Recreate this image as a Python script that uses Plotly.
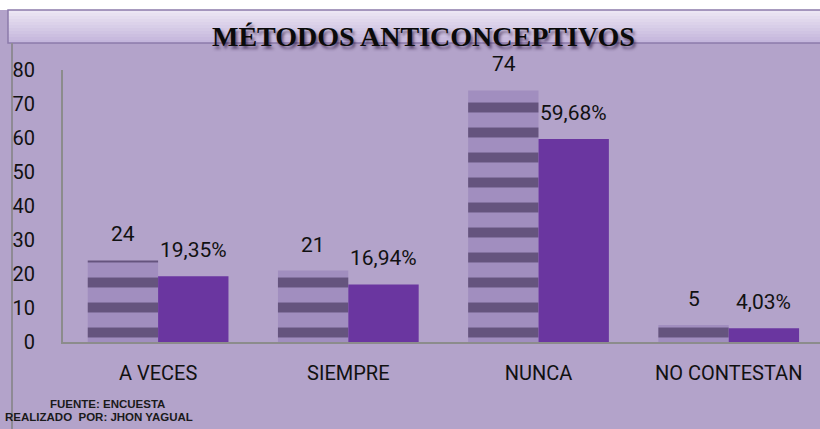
import plotly.graph_objects as go

categories = ["A VECES", "SIEMPRE", "NUNCA", "NO CONTESTAN"]
counts = [24, 21, 74, 5]
percents = [19.35, 16.94, 59.68, 4.03]
percent_labels = ["19,35%", "16,94%", "59,68%", "4,03%"]
y_ticks = [0, 10, 20, 30, 40, 50, 60, 70, 80]

W, H = 820, 429
L, R, T, B = 63, 0, 70, 87
pw, ph = W - L - R, H - T - B

def px(x):
    return (x - L) / pw

def py(y):
    return (H - B - y) / ph

BG = "#B3A3CA"
fig = go.Figure()

fig.add_trace(go.Bar(
    x=categories, y=counts, name="Frecuencia",
    marker=dict(color="#A18EBF",
                pattern=dict(shape="-", fgcolor="#5A4A73", bgcolor="#A18EBF",
                             fgopacity=0.85, size=25, solidity=0.4),
                line=dict(width=0)),
))
fig.add_trace(go.Bar(
    x=categories, y=percents, name="Porcentaje",
    marker=dict(color="#6A36A0", line=dict(width=0)),
))

font_lbl = dict(family="Roboto, Arial, sans-serif", size=21, color="#111111")
for c, v in zip(categories, counts):
    fig.add_annotation(x=c, y=v, text=str(v), showarrow=False, xshift=-35,
                       yanchor="bottom", yshift=12, font=font_lbl)
for c, v, t in zip(categories, percents, percent_labels):
    fig.add_annotation(x=c, y=v, text=t, showarrow=False, xshift=35,
                       yanchor="bottom", yshift=12, font=font_lbl)

shapes = []
# lavender chart background below the white top strip
shapes.append(dict(type="rect", xref="paper", yref="paper", x0=px(0), x1=px(W + 2), y0=py(H + 2), y1=py(10),
                   fillcolor=BG, line=dict(width=0), layer="below"))
# title box gradient strips
top_c = (236, 230, 244)
bot_c = (196, 182, 220)
n = 11
y0, y1 = 10, 43
for i in range(n):
    f = i / (n - 1)
    col = tuple(int(top_c[k] + (bot_c[k] - top_c[k]) * f) for k in range(3))
    ya = y0 + (y1 - y0) * i / n
    yb = y0 + (y1 - y0) * (i + 1) / n
    shapes.append(dict(type="rect", xref="paper", yref="paper", x0=px(8), x1=px(W + 2),
                       y0=py(yb), y1=py(ya), fillcolor="rgb(%d,%d,%d)" % col,
                       line=dict(width=0), layer="below"))
shapes.append(dict(type="rect", xref="paper", yref="paper", x0=px(8), x1=px(W + 2),
                   y0=py(43), y1=py(10), fillcolor="rgba(0,0,0,0)",
                   line=dict(width=1.5, color="#8C7BAA"), layer="below"))
# left border line
shapes.append(dict(type="line", xref="paper", yref="paper", x0=px(12), x1=px(12),
                   y0=py(H), y1=py(43), line=dict(width=2, color="#8E8A94"), layer="below"))
fig.update_layout(shapes=shapes)

fig.add_annotation(xref="paper", yref="paper", x=px(423), y=py(36), text="<b>MÉTODOS ANTICONCEPTIVOS</b>",
                   showarrow=False, xanchor="center", yanchor="middle",
                   font=dict(family="Liberation Serif, Times New Roman, serif", size=28, color="#0A0A0A",
                             shadow="2px 3px 3px rgba(40,20,60,0.6)"))
fig.add_annotation(xref="paper", yref="paper", x=px(107), y=py(404), text="<b>FUENTE: ENCUESTA</b>",
                   showarrow=False, xanchor="center", yanchor="middle",
                   font=dict(family="Liberation Sans, Arial, sans-serif", size=11.5, color="#1A1A1A"))
fig.add_annotation(xref="paper", yref="paper", x=px(3), y=py(417), text="<b>REALIZADO  POR: JHON YAGUAL</b>",
                   showarrow=False, xanchor="left", yanchor="middle",
                   font=dict(family="Liberation Sans, Arial, sans-serif", size=11.5, color="#1A1A1A"))

fig.update_layout(
    width=W, height=H,
    margin=dict(l=L, r=R, t=T, b=B, pad=0),
    paper_bgcolor="white", plot_bgcolor=BG,
    barmode="group", bargap=0.26, bargroupgap=0,
    showlegend=False,
    xaxis=dict(showgrid=False, showline=True, linecolor="#8C8C8C", linewidth=2,
               ticks="", tickfont=dict(family="Roboto, Arial, sans-serif", size=20, color="#111111"),
               ticklabelstandoff=12, range=[-0.5, 3.48], fixedrange=True),
    yaxis=dict(range=[0, 80], tickvals=y_ticks, showgrid=False, showline=True,
               linecolor="#8C8C8C", linewidth=2, ticks="", zeroline=False,
               tickfont=dict(family="Roboto, Arial, sans-serif", size=20, color="#111111"),
               ticklabelstandoff=22, fixedrange=True),
)

fig.write_html("out.html", config={"displayModeBar": False},
               post_script="document.body.style.margin='0px';document.body.style.overflow='hidden';")
